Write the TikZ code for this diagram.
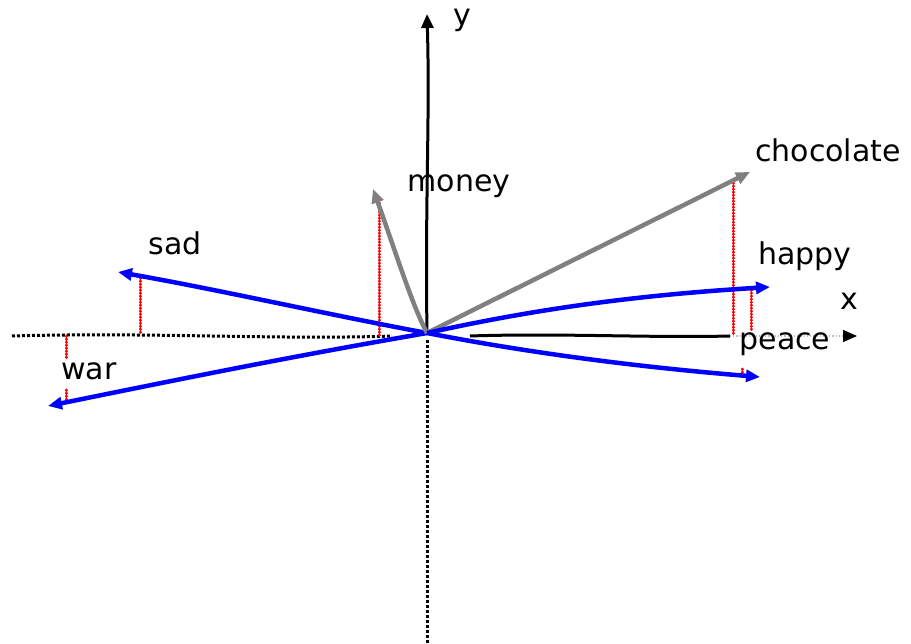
\documentclass[tikz,border=0pt]{standalone}
\usepackage{fontspec}
\setmainfont{DejaVu Sans}
\usetikzlibrary{arrows.meta}
\begin{document}
\begin{tikzpicture}[x=1pt,y=-1pt,
  lbl/.style={font=\fontsize{30}{34}\selectfont, inner sep=1pt},
  axis/.style={black, line width=3pt},
  axdot/.style={black, line width=3pt, dotted},
  bvec/.style={blue, line width=4.5pt, -{Triangle[length=14pt,width=12pt]}},
  gvec/.style={gray, line width=4.5pt, -{Triangle[length=14pt,width=12pt]}},
  proj/.style={red, line width=3pt, line cap=round, dash pattern=on 0.5pt off 2.5pt}]
\useasboundingbox (0,0) rectangle (911,644);
% origin and axis points
\coordinate (O) at (427,333);
\coordinate (ytop) at (427,14);
\coordinate (ybot) at (427,644);
\coordinate (xleft) at (12,336);
\coordinate (xr1) at (470,336);
\coordinate (xr2) at (730,336);
\coordinate (xend) at (857,336);
% axes
\draw[axis,-{Triangle[length=14pt,width=12pt]}] (O) .. controls (425,200) and (430,120) .. (ytop);
\draw[axdot] (427,340) -- (ybot);
\draw[axdot] (xleft) .. controls (150,332) and (280,340) .. (392,336);
\draw[axis] (xr1) .. controls (560,333) and (650,338) .. (xr2);
\draw[gray!50, line width=1.2pt, dotted, -{Triangle[length=14pt,width=12pt,black]}] (xr2) -- (xend);
% vector endpoints
\coordinate (sad) at (118,272);
\coordinate (war) at (48,406);
\coordinate (money) at (373,189);
\coordinate (choc) at (750,172);
\coordinate (happy) at (770,287);
\coordinate (peace) at (760,377);
% projections
\draw[proj] (140,278) -- (140,334);
\draw[proj] (66,336) -- (66,358);
\draw[proj] (66,390) -- (66,404);
\draw[proj] (379,200) -- (379,336);
\draw[proj] (733,180) -- (733,334);
\draw[proj] (751,290) -- (751,330);
\draw[proj] (742,369) -- (742,377);
% vectors
\draw[bvec] (O) .. controls (330,315) and (220,290) .. (sad);
\draw[bvec] (O) .. controls (300,355) and (200,375) .. (war);
\draw[gvec] (O) .. controls (412,305) and (395,250) .. (money);
\draw[gvec] (O) -- (choc);
\draw[bvec] (O) .. controls (540,308) and (640,295) .. (happy);
\draw[bvec] (O) .. controls (540,355) and (650,368) .. (peace);
% labels
\node[lbl] (ly) at (462,20) {y};
\node[lbl] (lx) at (849,301) {x};
\node[lbl] (lmoney) at (459,186) {money};
\node[lbl] (lchoc) at (828,150) {chocolate};
\node[lbl] (lhappy) at (805,256) {happy};
\node[lbl] (lpeace) at (785,344) {peace};
\node[lbl] (lsad) at (175,243) {sad};
\node[lbl] (lwar) at (89,371) {war};
\end{tikzpicture}
\end{document}
